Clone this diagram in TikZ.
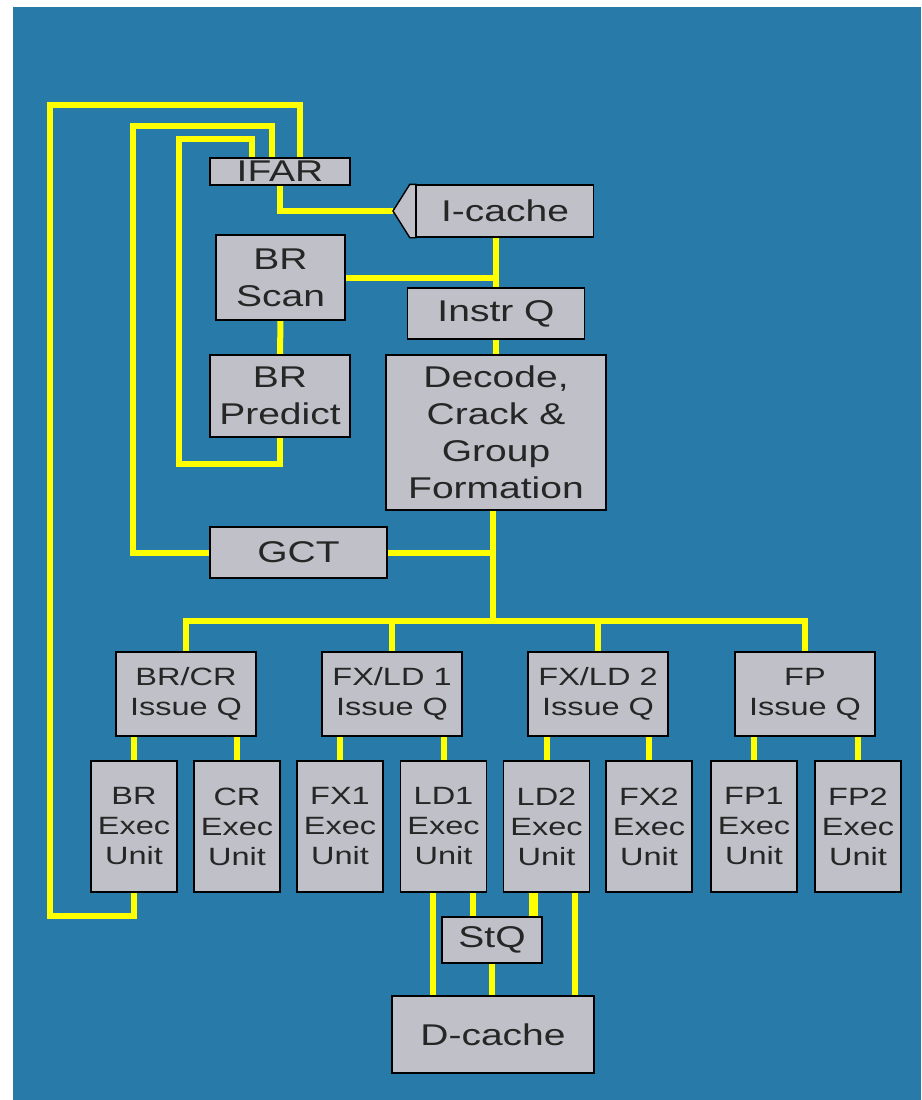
\documentclass[tikz,border=0pt]{standalone}
\usepackage{fontspec}
\setmainfont{Liberation Sans}[FakeStretch=1.3]
\usetikzlibrary{backgrounds}

\definecolor{panel}{RGB}{40,122,168}
\definecolor{boxgray}{RGB}{192,192,200}
\definecolor{wireyellow}{RGB}{255,255,0}

\tikzset{
  unit/.style={draw=black, line width=1.4pt, fill=boxgray, inner sep=0pt, align=center,
    text=black!85, font=\fontsize{30}{37}\selectfont},
  small/.style={font=\fontsize{25}{30}\selectfont},
  wire/.style={draw=wireyellow, line width=6pt}
}

\begin{document}
\begin{tikzpicture}[x=1pt, y=-1pt]
    \useasboundingbox (0,0) rectangle (921,1100);

    % front end
    \node[unit, minimum width=140, minimum height=27] (ifar) at (280,171.5) {IFAR};
    \node[unit, minimum width=177, minimum height=52] (icache) at (505,211) {I-cache};
    \node[unit, minimum width=129, minimum height=85] (brscan) at (280.5,277.5) {BR\\Scan};
    \node[unit, minimum width=177, minimum height=51] (instrq) at (496,313.5) {Instr Q};
    \node[unit, minimum width=140, minimum height=82] (brpredict) at (280,396) {BR\\Predict};
    \node[unit, minimum width=220, minimum height=155] (decode) at (496,432.5) {Decode,\\Crack \&\\Group\\Formation};
    \node[unit, minimum width=177, minimum height=51] (gct) at (298.5,552.5) {GCT};
    \coordinate (ipoint) at (393,211);

    % issue queues
    \node[unit, small, minimum width=140, minimum height=84] (brcrq) at (186,694) {BR/CR\\Issue Q};
    \node[unit, small, minimum width=140, minimum height=84] (fxldq1) at (392,694) {FX/LD 1\\Issue Q};
    \node[unit, small, minimum width=140, minimum height=84] (fxldq2) at (598,694) {FX/LD 2\\Issue Q};
    \node[unit, small, minimum width=140, minimum height=84] (fpq) at (805,694) {FP\\Issue Q};

    % execution units
    \node[unit, small, minimum width=86, minimum height=131] (brexec) at (134,826.5) {BR\\Exec\\Unit};
    \node[unit, small, minimum width=86, minimum height=131] (crexec) at (237,826.5) {CR\\Exec\\Unit};
    \node[unit, small, minimum width=86, minimum height=131] (fx1exec) at (340,826.5) {FX1\\Exec\\Unit};
    \node[unit, small, minimum width=86, minimum height=131] (ld1exec) at (443.5,826.5) {LD1\\Exec\\Unit};
    \node[unit, small, minimum width=86, minimum height=131] (ld2exec) at (546.5,826.5) {LD2\\Exec\\Unit};
    \node[unit, small, minimum width=86, minimum height=131] (fx2exec) at (649,826.5) {FX2\\Exec\\Unit};
    \node[unit, small, minimum width=86, minimum height=131] (fp1exec) at (754,826.5) {FP1\\Exec\\Unit};
    \node[unit, small, minimum width=86, minimum height=131] (fp2exec) at (858,826.5) {FP2\\Exec\\Unit};

    % store queue and data cache
    \node[unit, minimum width=100, minimum height=46] (stq) at (492,940) {StQ};
    \node[unit, minimum width=202, minimum height=77] (dcache) at (493,1034.5) {D-cache};

    % I-cache port
    \draw[line width=1.4pt, fill=boxgray] (icache.north west) -- ([xshift=-6]icache.north west) -- (ipoint)
      -- ([xshift=-6]icache.south west) -- (icache.south west) -- cycle;

    \begin{pgfonlayer}{background}
      \fill[white] (0,0) rectangle (921,1100);
      \fill[panel] (13,7) rectangle (921,1100);

      % fetch loops
      \draw[wire] (brexec.south) -- ++(0,23) -| (50,105) -| ([xshift=20]ifar.north);
      \draw[wire] ([xshift=-8]ifar.north) |- (133,126) |- (gct.west);
      \draw[wire] ([xshift=-28]ifar.north) |- (179,139) |- (280,464) -- (brpredict.south);
      \draw[wire] (ifar.south) |- (ipoint);

      % instruction path
      \draw[wire] (icache.south -| instrq.north) -- (instrq.north);
      \draw[wire] (brscan.east) -- (brscan.east -| instrq.north);
      \draw[wire] (brscan.south) -- (brpredict.north);
      \draw[wire] (instrq.south) -- (decode.north);
      \draw[wire] ([xshift=-3]decode.south) -- ++(0,110) coordinate (busmid);
      \draw[wire] (gct.east) -- (gct.east -| busmid);

      % dispatch bus
      \draw[wire] (brcrq.north) |- (busmid) -| (fpq.north);
      \draw[wire] (fxldq1.north) -- (fxldq1.north |- busmid);
      \draw[wire] (fxldq2.north) -- (fxldq2.north |- busmid);

      % issue to execute
      \draw[wire] (brcrq.south -| brexec.north) -- (brexec.north);
      \draw[wire] (brcrq.south -| crexec.north) -- (crexec.north);
      \draw[wire] (fxldq1.south -| fx1exec.north) -- (fx1exec.north);
      \draw[wire] (fxldq1.south -| ld1exec.north) -- (ld1exec.north);
      \draw[wire] (fxldq2.south -| ld2exec.north) -- (ld2exec.north);
      \draw[wire] (fxldq2.south -| fx2exec.north) -- (fx2exec.north);
      \draw[wire] (fpq.south -| fp1exec.north) -- (fp1exec.north);
      \draw[wire] (fpq.south -| fp2exec.north) -- (fp2exec.north);

      % load/store
      \draw[wire] ([xshift=-11]ld1exec.south) -- ([xshift=-11]ld1exec.south |- dcache.north);
      \draw[wire] ([xshift=29]ld1exec.south) -- ([xshift=29]ld1exec.south |- stq.north);
      \draw[wire, line width=9pt] ([xshift=-13]ld2exec.south) -- ([xshift=-13]ld2exec.south |- stq.north);
      \draw[wire] ([xshift=28]ld2exec.south) -- ([xshift=28]ld2exec.south |- dcache.north);
      \draw[wire] (stq.south) -- (stq.south |- dcache.north);
    \end{pgfonlayer}
\end{tikzpicture}
\end{document}
